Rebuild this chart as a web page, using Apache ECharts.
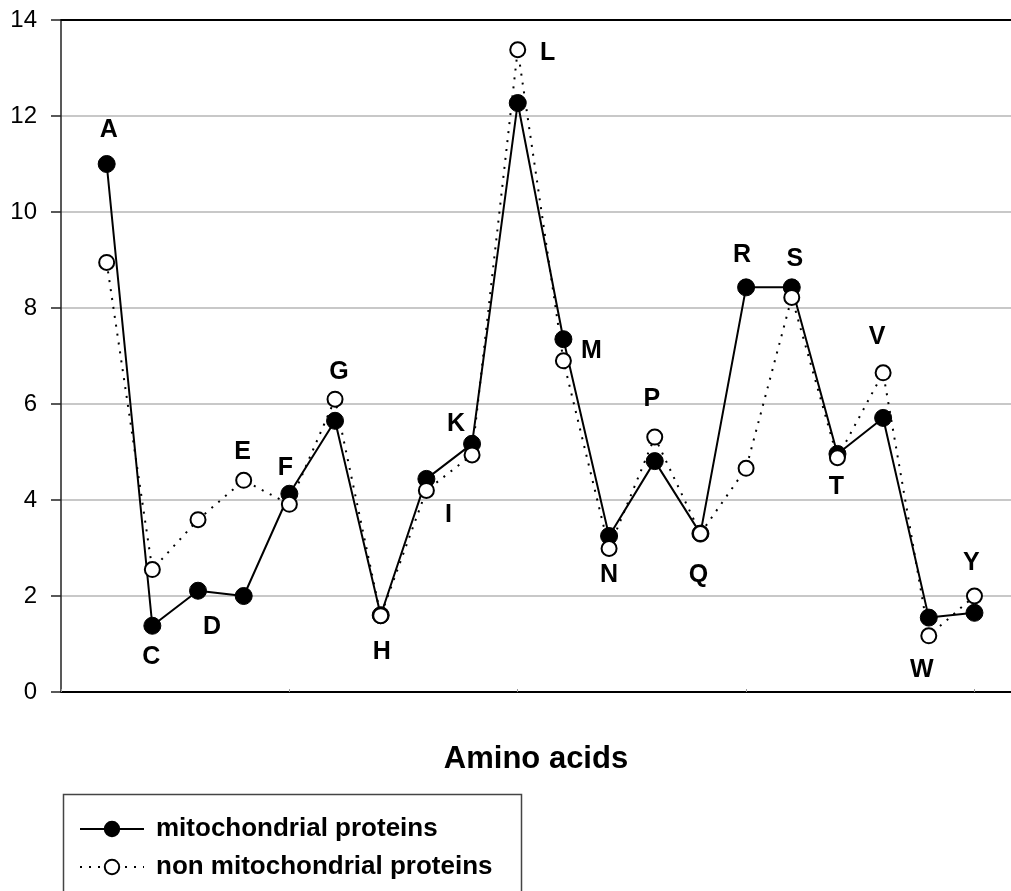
<!DOCTYPE html>
<html>
<head>
<meta charset="utf-8">
<script src="https://cdn.jsdelivr.net/npm/echarts@6/dist/echarts.min.js"></script>
<style>
html,body{margin:0;padding:0;background:#fff;}
#chart{width:1011px;height:891px;}
</style>
</head>
<body>
<div id="chart"></div>
<script>
// ---- data ----
const aminoAcids = ['A','C','D','E','F','G','H','I','K','L','M','N','P','Q','R','S','T','V','W','Y'];
const mitochondrial = [11.0, 1.38, 2.11, 2.0, 4.13, 5.65, 1.6, 4.44, 5.17, 12.27, 7.35, 3.25, 4.81, 3.3, 8.43, 8.43, 4.96, 5.71, 1.55, 1.65];
const nonMitochondrial = [8.95, 2.55, 3.59, 4.41, 3.91, 6.1, 1.59, 4.2, 4.94, 13.38, 6.9, 2.99, 5.31, 3.3, 4.66, 8.22, 4.88, 6.65, 1.17, 2.0];
const yTicks = [0, 2, 4, 6, 8, 10, 12, 14];

// ---- label placement (style): which series the letter sits next to, and pixel offset ----
const labelAnchor = ['m','m','m','n','m','n','n','n','m','n','m','n','n','n','m','m','n','n','m','n'];
const labelOffset = [[2,-34],[-1,31],[14,36],[-1,-28],[-4,-26],[4,-27],[1,36],[22,25],[-16,-20],[30,3],
                     [28,12],[0,27],[-3,-38],[-2,42],[-4,-32],[3,-28],[-1,29],[-6,-36],[-7,53],[-3,-33]];

const FONT = "'Liberation Sans', Arial, sans-serif";

function buildData(values, key) {
  return values.map((v, i) => {
    const item = { value: [i + 1, v] };
    if (labelAnchor[i] === key) {
      item.label = {
        show: true,
        position: 'inside',
        formatter: aminoAcids[i],
        offset: labelOffset[i],
        fontFamily: FONT,
        fontSize: 25,
        fontWeight: 'bold',
        color: '#000',
        align: 'center',
        verticalAlign: 'middle'
      };
    }
    return item;
  });
}

const chart = echarts.init(document.getElementById('chart'), null, { renderer: 'canvas' });
chart.setOption({
  animation: false,
  backgroundColor: '#fff',
  grid: { left: 61, right: 0, top: 20, bottom: 199, containLabel: false },
  xAxis: [
    {
      type: 'value', min: 0, max: 20.8, interval: 5,
      axisLine: { show: true, lineStyle: { color: '#000', width: 2 } },
      axisTick: { show: true, length: 3, inside: true, lineStyle: { color: '#999', width: 1 } },
      axisLabel: { show: false },
      splitLine: { show: false }
    },
    {
      type: 'value', min: 0, max: 20.8, position: 'top',
      axisLine: { show: true, onZero: false, lineStyle: { color: '#000', width: 2 } },
      axisTick: { show: false }, axisLabel: { show: false }, splitLine: { show: false }
    }
  ],
  yAxis: {
    type: 'value', min: yTicks[0], max: yTicks[yTicks.length - 1], interval: 2,
    axisLine: { show: true, lineStyle: { color: '#222', width: 1.5 } },
    axisTick: { show: true, length: 10, lineStyle: { color: '#222', width: 1.5 } },
    axisLabel: { margin: 24, fontFamily: FONT, fontSize: 24, color: '#000' },
    splitLine: { show: true, lineStyle: { color: '#c8c8c8', width: 2 } }
  },
  legend: {
    orient: 'vertical',
    left: 79, top: 816, height: 75,
    padding: 0,
    itemWidth: 64, itemHeight: 18, itemGap: 12,
    textStyle: { fontFamily: FONT, fontSize: 26, lineHeight: 26, fontWeight: 'bold', color: '#000', padding: [0, 0, 0, 7] },
    data: ['mitochondrial proteins', 'non mitochondrial proteins']
  },
  graphic: [
    { type: 'rect', left: 61, top: 792, shape: { width: 458, height: 150 },
      style: { fill: 'none', stroke: '#444', lineWidth: 1.5 }, silent: true },
    { type: 'text', x: 536, y: 759,
      style: { text: 'Amino acids', font: "bold 31px 'Liberation Sans', Arial, sans-serif", fill: '#000',
               textAlign: 'center', textVerticalAlign: 'middle' } }
  ],
  series: [
    {
      name: 'mitochondrial proteins', type: 'line',
      data: buildData(mitochondrial, 'm'),
      symbol: 'circle', symbolSize: 17,
      lineStyle: { color: '#000', width: 2 },
      itemStyle: { color: '#000', borderColor: '#000', borderWidth: 1 },
      z: 2
    },
    {
      name: 'non mitochondrial proteins', type: 'line',
      data: buildData(nonMitochondrial, 'n'),
      symbol: 'circle', symbolSize: 15,
      lineStyle: { color: '#000', width: 2, type: [2, 7] },
      itemStyle: { color: '#fff', borderColor: '#000', borderWidth: 2 },
      z: 3
    }
  ]
});
</script>
</body>
</html>
